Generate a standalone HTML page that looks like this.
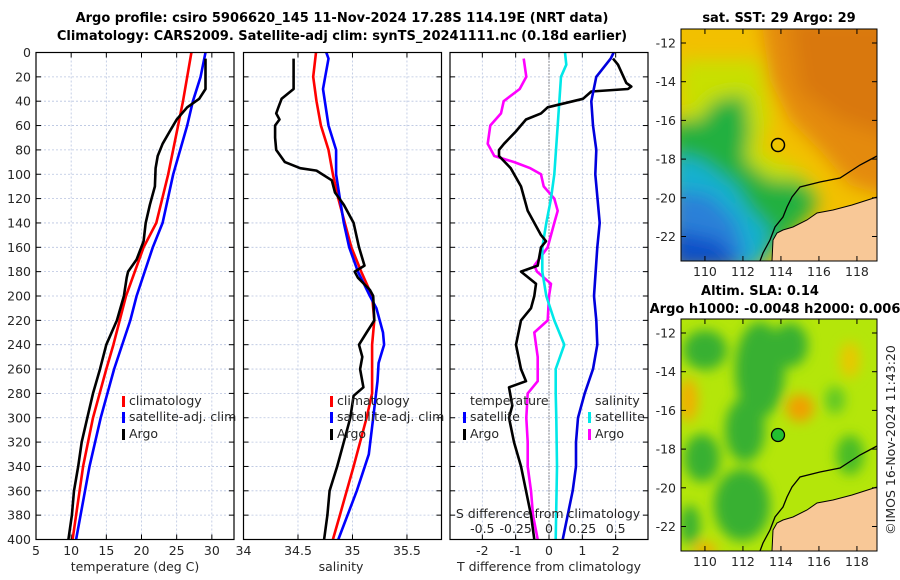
<!DOCTYPE html>
<html><head><meta charset="utf-8">
<style>
body{margin:0;background:#fff;}
svg{display:block;font-family:"DejaVu Sans","Liberation Sans",sans-serif;}
.t{font-size:12.5px;fill:#262626;}
.b{font-size:13px;font-weight:bold;fill:#000;}
</style></head><body>
<svg id="fig" width="900" height="580" viewBox="0 0 900 580">
<defs>
<filter id="blur1" x="-20%" y="-20%" width="140%" height="140%"><feGaussianBlur stdDeviation="9"/></filter>
<filter id="blur2" x="-20%" y="-20%" width="140%" height="140%"><feGaussianBlur stdDeviation="6"/></filter>
<clipPath id="c1"><rect x="681" y="29" width="196" height="232"/></clipPath>
<clipPath id="c2"><rect x="681" y="319" width="196" height="232"/></clipPath>
</defs>
<text class="b" x="342" y="22" text-anchor="middle">Argo profile: csiro 5906620_145 11-Nov-2024 17.28S 114.19E (NRT data)</text>
<text class="b" x="342" y="40" text-anchor="middle">Climatology: CARS2009. Satellite-adj clim: synTS_20241111.nc (0.18d earlier)</text>

<!-- SST map -->
<g clip-path="url(#c1)">
<rect x="681" y="29" width="196" height="232" fill="#f2c000"/>
<g filter="url(#blur1)">
<path d="M760 10 L900 10 L900 200 L850 185 L820 150 L790 120 L770 80 Z" fill="#e48a10"/>
<path d="M790 20 L900 20 L900 140 L840 120 L800 90 Z" fill="#d9780c"/>
<path d="M680 60 L760 60 L770 120 L760 150 L800 170 L820 195 L800 215 L770 240 L680 240 Z" fill="#c8e000"/>
<path d="M670 120 L700 120 L715 100 L745 95 L750 130 L745 160 L770 180 L800 180 L820 200 L800 225 L760 265 L670 265 Z" fill="#22b040"/>
<path d="M670 155 L700 160 L735 185 L750 210 L770 230 L760 270 L670 270 Z" fill="#15b0d0"/>
<path d="M670 190 L710 195 L735 220 L745 250 L740 270 L670 270 Z" fill="#2a80d8"/>
<path d="M670 230 L720 240 L740 270 L670 270 Z" fill="#1050c8"/>
</g>
</g>
<g>
<polygon points="877,197 852,205 833,210 817,213 807,220 793,227 783,230 777,233 773,240 772,261 877,261" fill="#f8c897" stroke="#000" stroke-width="1"/>
<polyline points="877,156 860,165 840,178 820,182 800,187 792,197 787,207 783,217 775,227 770,240 763,253 760,261" fill="none" stroke="#000" stroke-width="1.3"/>
</g>
<rect x="681" y="29" width="196" height="232" fill="none" stroke="#000" stroke-width="1"/>
<circle cx="778" cy="145" r="6.5" fill="none" stroke="#000" stroke-width="1.5"/>
<text class="b" x="779" y="22" text-anchor="middle">sat. SST: 29 Argo: 29</text>

<!-- SLA map -->
<g clip-path="url(#c2)">
<rect x="681" y="319" width="196" height="232" fill="#b4e60a"/>
<g filter="url(#blur2)">
<ellipse cx="705" cy="350" rx="22" ry="20" fill="#38b030"/>
<ellipse cx="760" cy="370" rx="25" ry="48" fill="#38b030"/>
<ellipse cx="790" cy="345" rx="18" ry="22" fill="#38b030"/>
<ellipse cx="745" cy="430" rx="20" ry="32" fill="#38b030"/>
<ellipse cx="702" cy="458" rx="18" ry="24" fill="#38b030"/>
<ellipse cx="742" cy="505" rx="28" ry="36" fill="#38b030"/>
<ellipse cx="850" cy="455" rx="14" ry="20" fill="#48bc28"/>
<ellipse cx="835" cy="400" rx="10" ry="14" fill="#60c828"/>
<ellipse cx="800" cy="408" rx="14" ry="14" fill="#f0a000"/>
<ellipse cx="688" cy="400" rx="10" ry="22" fill="#f0b000"/>
<ellipse cx="850" cy="360" rx="10" ry="18" fill="#e8c800"/>
<ellipse cx="705" cy="550" rx="12" ry="8" fill="#f0b000"/>
<ellipse cx="690" cy="525" rx="10" ry="20" fill="#38b030"/>
</g>
</g>
<g>
<polygon points="877,487 852,495 833,500 817,503 807,510 793,517 783,520 777,523 773,530 772,551 877,551" fill="#f8c897" stroke="#000" stroke-width="1"/>
<polyline points="877,446 860,455 840,468 820,472 800,477 792,487 787,497 783,507 775,517 770,530 763,543 760,551" fill="none" stroke="#000" stroke-width="1.3"/>
</g>
<rect x="681" y="319" width="196" height="232" fill="none" stroke="#000" stroke-width="1"/>
<circle cx="778" cy="435" r="6.5" fill="#22c030" stroke="#000" stroke-width="1.3"/>
<text class="b" x="760" y="295" text-anchor="middle">Altim. SLA: 0.14</text>
<text class="b" x="775" y="313" text-anchor="middle">Argo h1000: -0.0048 h2000: 0.006</text>
<text class="t" transform="translate(895,440) rotate(-90)" text-anchor="middle">©IMOS 16-Nov-2024 11:43:20</text>
<g id="axes"></g>
</svg>
<script>
// ---- data ----
const depthTicks=[0,20,40,60,80,100,120,140,160,180,200,220,240,260,280,300,320,340,360,380,400];
const tempTicks=[5,10,15,20,25,30];
const salTicks=[34,34.5,35,35.5];
const tdiffTicks=[-2,-1,0,1,2];
const sdiffTicks=[-0.5,-0.25,0,0.25,0.5];
const tempClimDepth=[0,40,60,100,140,160,200,240,260,300,340,400];
const tempClim=[27.1,25.9,25.2,23.8,22.1,20.3,17.8,16,15,13.1,11.7,10.2];
const tempSatDepth=[0,20,40,60,100,140,160,200,220,260,300,340,400];
const tempSat=[29.1,28.4,27.3,26.5,24.5,23,21.6,19.3,18.4,16.1,14.2,12.6,10.7];
const tempArgoDepth=[5,30,38,45,55,65,75,85,95,110,125,140,155,170,180,185,200,220,240,260,280,300,320,340,360,380,400];
const tempArgo=[29.1,29.1,28.2,26.5,25,24,23,22.3,22,21.9,21.2,20.6,20.3,19.3,18.1,17.9,17.5,16.5,15,14.1,13.1,12.3,11.5,11,10.4,10.1,9.6];
const salClimDepth=[0,20,40,60,80,100,120,140,160,180,200,220,240,280,300,340,380,400];
const salClim=[34.665,34.64,34.67,34.71,34.78,34.82,34.87,34.93,34.99,35.08,35.18,35.2,35.18,35.18,35.13,35.01,34.885,34.82];
const salSatDepth=[0,5,20,30,60,80,100,120,140,160,180,200,210,230,240,255,270,300,330,360,400];
const salSat=[34.76,34.78,34.75,34.73,34.78,34.85,34.85,34.885,34.92,34.97,35.05,35.16,35.22,35.28,35.29,35.24,35.23,35.19,35.15,35.04,34.87];
const salArgoDepth=[5,30,38,45,50,55,60,70,80,90,95,97,105,115,125,140,160,175,180,185,195,200,220,230,240,250,260,275,282,300,320,340,360,380,400];
const salArgo=[34.46,34.46,34.35,34.32,34.3,34.33,34.29,34.29,34.3,34.38,34.52,34.67,34.81,34.84,34.92,35.01,35.06,35.11,35.02,35.05,35.16,35.19,35.2,35.13,35.06,35.09,35.07,35.1,35.01,34.98,34.92,34.86,34.79,34.77,34.74];
const tdSatDepth=[0,5,20,40,60,80,100,140,160,200,220,240,260,280,300,320,340,360,380,400];
const tdSat=[1.94,1.85,1.42,1.27,1.32,1.42,1.39,1.52,1.45,1.35,1.42,1.45,1.32,1.07,0.87,0.81,0.81,0.71,0.56,0.41];
const tdArgoDepth=[5,10,25,28,30,32,38,45,50,55,65,75,80,85,95,110,130,150,155,160,175,180,190,200,210,220,240,260,270,275,290,300,320,340,360,380,400];
const tdArgo=[1.92,2.07,2.32,2.47,2.37,1.27,1.02,-0.04,-0.24,-0.69,-1.0,-1.35,-1.5,-1.5,-1.15,-0.84,-0.64,-0.24,-0.09,-0.24,-0.34,-0.84,-0.39,-0.44,-0.54,-0.84,-0.99,-0.84,-0.69,-1.2,-1.1,-1.2,-1.05,-0.84,-0.69,-0.54,-0.44];
const sdSatDepth=[0,10,20,60,100,120,140,160,180,200,220,240,260,280,300,340,400];
const sdSat=[0.12,0.13,0.09,0.065,0.04,0.015,-0.02,-0.05,-0.05,-0.02,0.04,0.115,0.05,0.05,0.055,0.06,0.05];
const sdArgoDepth=[5,20,30,40,50,60,75,85,90,95,100,110,120,130,140,160,175,180,190,200,220,230,250,270,280,300,320,340,360,380,400];
const sdArgo=[-0.19,-0.17,-0.22,-0.34,-0.36,-0.44,-0.46,-0.41,-0.26,-0.14,-0.06,-0.04,0.04,0.065,0.04,-0.01,-0.11,-0.09,0.015,0.0,-0.01,-0.11,-0.085,-0.085,-0.16,-0.17,-0.16,-0.16,-0.135,-0.12,-0.085];
const mapLatTicks=[-12,-14,-16,-18,-20,-22];
const mapLonTicks=[110,112,114,116,118];

// ---- axes ----
const NS='http://www.w3.org/2000/svg';
const G=document.getElementById('axes');
function mk(tag,attrs,parent){const e=document.createElementNS(NS,tag);for(const k in attrs)e.setAttribute(k,attrs[k]);(parent||G).appendChild(e);return e;}
const Y0=52.5,Y1=539.5;
const yD=d=>Y0+(Y1-Y0)*d/400;
const panels=[
 {x0:36,x1:234,d0:5,d1:33.15,name:'temperature'},
 {x0:243.5,x1:441.5,d0:34,d1:35.817,name:'salinity'},
 {x0:450,x1:648,d0:-2.97,d1:2.97,name:'difference'}
];
panels.forEach(p=>{p.sx=v=>p.x0+(v-p.d0)*(p.x1-p.x0)/(p.d1-p.d0);});
const sdx=v=>panels[2].sx(v*4);
function grid(p,ticks,sx){
 ticks.forEach(t=>{const x=sx(t);
  const l=mk('line',{x1:x,x2:x,y1:Y0,y2:Y1,stroke:'#b8c4e0','stroke-width':0.8,'stroke-dasharray':'2,2'});
  
  });
 depthTicks.forEach(d=>{const y=yD(d);
  const l=mk('line',{x1:p.x0,x2:p.x1,y1:y,y2:y,stroke:'#b8c4e0','stroke-width':0.8,'stroke-dasharray':'2,2'});
  
  
  mk('line',{x1:p.x0,x2:p.x0+5,y1:y,y2:y,stroke:'#000','stroke-width':1});
  mk('line',{x1:p.x1,x2:p.x1-5,y1:y,y2:y,stroke:'#000','stroke-width':1});});
}
grid(panels[0],tempTicks,panels[0].sx);
grid(panels[1],salTicks,panels[1].sx);
grid(panels[2],tdiffTicks,panels[2].sx);
{const x=panels[2].sx(0);const l=mk('line',{x1:x,x2:x,y1:Y0,y2:Y1,stroke:'#333','stroke-width':1,'stroke-dasharray':'1,2'});

}
function line(xs,ds,sx,color,name){
 const pts=xs.map((v,i)=>sx(v).toFixed(1)+','+yD(ds[i]).toFixed(1)).join(' ');
 const e=mk('polyline',{points:pts,fill:'none',stroke:color,'stroke-width':2.6,'stroke-linejoin':'round'});
 
 
}
line(tempClim,tempClimDepth,panels[0].sx,'#ff0000','temp-climatology-line');
line(tempSat,tempSatDepth,panels[0].sx,'#0000ff','temp-satellite-line');
line(tempArgo,tempArgoDepth,panels[0].sx,'#000','temp-argo-line');
line(salClim,salClimDepth,panels[1].sx,'#ff0000','sal-climatology-line');
line(salSat,salSatDepth,panels[1].sx,'#0000ff','sal-satellite-line');
line(salArgo,salArgoDepth,panels[1].sx,'#000','sal-argo-line');
line(sdArgo,sdArgoDepth,sdx,'#ff00ff','sdiff-argo-line');
line(sdSat,sdSatDepth,sdx,'#00e8e8','sdiff-satellite-line');
line(tdArgo,tdArgoDepth,panels[2].sx,'#000','tdiff-argo-line');
line(tdSat,tdSatDepth,panels[2].sx,'#0000dd','tdiff-satellite-line');
panels.forEach(p=>{const r=mk('rect',{x:p.x0,y:Y0,width:p.x1-p.x0,height:Y1-Y0,fill:'none',stroke:'#000','stroke-width':1.2});
 
 });
depthTicks.forEach(d=>{const t=mk('text',{x:31,y:yD(d)+4.5,'text-anchor':'end',class:'t'});t.textContent=d;
 
 });
function xlabels(ticks,sx,y,name){ticks.forEach(v=>{const x=sx(v);
 mk('line',{x1:x,x2:x,y1:Y1,y2:Y1-5,stroke:'#000'});mk('line',{x1:x,x2:x,y1:Y0,y2:Y0+5,stroke:'#000'});
 const t=mk('text',{x:x,y:y,'text-anchor':'middle',class:'t'});t.textContent=v;
 
 });}
xlabels(tempTicks,panels[0].sx,555,'temp-tick-label');
xlabels(salTicks,panels[1].sx,555,'sal-tick-label');
xlabels(tdiffTicks,panels[2].sx,555,'tdiff-tick-label');
sdiffTicks.forEach(v=>{const t=mk('text',{x:sdx(v),y:533,'text-anchor':'middle',class:'t'});t.textContent=v;
 
 });
function txt(x,y,s,name,anchor){const t=mk('text',{x:x,y:y,'text-anchor':anchor||'start',class:'t'});t.textContent=s;
 
 return t;}
txt(135,571,'temperature (deg C)','temp-axis-title','middle');
txt(341,571,'salinity','sal-axis-title','middle');
txt(549,571,'T difference from climatology','tdiff-axis-title','middle');
txt(548,518,'S difference from climatology','sdiff-axis-title','middle');
function leg(x,y,color,label,name){const r=mk('rect',{x:x,y:y-9,width:3,height:11,fill:color});
 
 
 txt(x+7,y,label,name);}
leg(122,405,'#ff0000','climatology','legend-temp-climatology');
leg(122,421,'#0000ff','satellite-adj. clim','legend-temp-satellite');
leg(122,438,'#000','Argo','legend-temp-argo');
leg(330,405,'#ff0000','climatology','legend-sal-climatology');
leg(330,421,'#0000ff','satellite-adj. clim','legend-sal-satellite');
leg(330,438,'#000','Argo','legend-sal-argo');
txt(470,405,'temperature','legend-temperature-heading');
leg(463,421,'#0000ff','satellite','legend-tdiff-satellite');
leg(463,438,'#000','Argo','legend-tdiff-argo');
txt(595,405,'salinity','legend-salinity-heading');
leg(588,421,'#00e8e8','satellite','legend-sdiff-satellite');
leg(588,438,'#ff00ff','Argo','legend-sdiff-argo');
const lonX=lon=>681+(lon-108.74)*19;
[[29,43,261],[319,333,551]].forEach(([top,y12,bot])=>{
 const latY=lat=>y12+(-12-lat)*19.35;
 mapLatTicks.forEach(l=>{const y=latY(l);
  mk('line',{x1:681,x2:686,y1:y,y2:y,stroke:'#000'});mk('line',{x1:877,x2:872,y1:y,y2:y,stroke:'#000'});
  txt(676,y+4.5,String(l),'map-lat-label','end');});
 mapLonTicks.forEach(l=>{const x=lonX(l);
  mk('line',{x1:x,x2:x,y1:bot,y2:bot-5,stroke:'#000'});mk('line',{x1:x,x2:x,y1:top,y2:top+5,stroke:'#000'});
  txt(x,bot+15,String(l),'map-lon-label','middle');});
});
</script>
</body></html>
